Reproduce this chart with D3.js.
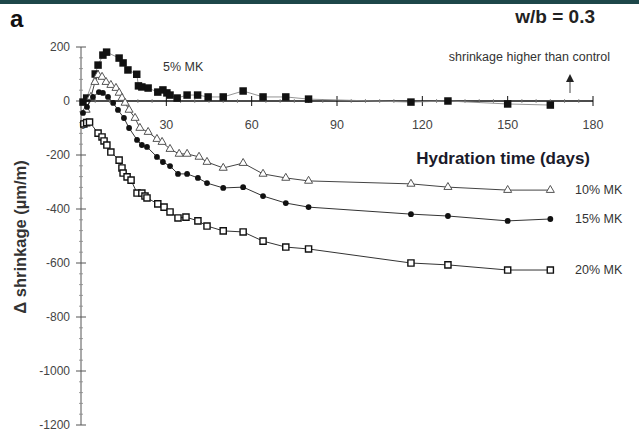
<!DOCTYPE html>
<html>
<head>
<meta charset="utf-8">
<script src="https://cdn.jsdelivr.net/npm/d3@7"></script>
<style>
  html, body { margin: 0; padding: 0; background: #fff; }
  svg { display: block; font-family: Arial, "Liberation Sans", Helvetica, sans-serif; }
</style>
</head>
<body>
<svg id="chart" width="639" height="438"></svg>
<script>
// Δ shrinkage relative to control, w/b = 0.3, by metakaolin replacement level
const days5 = [0.7, 2, 5, 6, 7.7, 9, 13.4, 14.8, 16.5, 19.6, 20.2, 21.4, 23.6, 27, 28.8, 30.2, 31.3, 33.8, 37.3, 41, 44.7, 50, 57, 64, 72, 80, 116, 129, 150, 165];
const mk5 = [-4, 11, 100, 133, 170, 181, 159, 141, 115, 99, 56, 52, 48, 33, 41, 30, 22, 11, 22, 22, 15, 15, 37, 15, 15, 7, -4, 0, -11, -15];

const days10 = [1.8, 3.5, 4.9, 6, 7.4, 8.8, 10.5, 12.3, 13.4, 14.4, 15.5, 16.9, 19, 20.7, 23.6, 26.7, 28.5, 31.3, 34.5, 37.3, 41.5, 44.3, 50, 57, 64, 72, 80, 116, 129, 150, 165];
const mk10 = [-33, 15, 70, 96, 89, 70, 59, 48, 30, 11, -7, -33, -63, -100, -115, -141, -152, -178, -196, -196, -207, -226, -248, -230, -270, -285, -296, -307, -319, -330, -330];

const days15 = [0.7, 2.1, 4.2, 6.3, 7.7, 9.5, 11.3, 13, 15.1, 16.9, 19.7, 21.4, 23.2, 26.7, 28.8, 31.3, 34.1, 37.3, 41.1, 44.3, 50, 57, 64, 72, 80, 116, 129, 150, 165];
const mk15 = [-44, -22, 15, 33, 30, 15, -7, -33, -63, -100, -144, -163, -170, -207, -226, -241, -270, -270, -285, -304, -322, -319, -352, -378, -393, -419, -426, -444, -437];

const days20 = [1, 2, 3, 6, 7.4, 8.1, 9.1, 10.5, 13.4, 14.4, 14.8, 16.2, 17.6, 19.7, 21.4, 22.5, 23.2, 27, 29.2, 31.3, 34.1, 36.9, 41.1, 44.3, 50, 57, 64, 72, 80, 116, 129, 150, 165];
const mk20 = [-85, -80, -78, -119, -133, -148, -163, -189, -219, -248, -267, -281, -293, -341, -341, -352, -359, -381, -393, -411, -433, -430, -444, -463, -481, -485, -519, -541, -548, -600, -607, -626, -626];

const seriesNames = ["5% MK", "10% MK", "15% MK", "20% MK"];
const xTickValues = [0, 30, 60, 90, 120, 150, 180];
const yTickValues = [200, 0, -200, -400, -600, -800, -1000, -1200];

const svg = d3.select("#chart");

// header band
svg.append("rect").attr("x", 0).attr("y", 0).attr("width", 639).attr("height", 4).attr("fill", "#1d4749");

const x = d3.scaleLinear().domain([0, 180]).range([81, 593]);
const y = d3.scaleLinear().domain([-1200, 200]).range([425, 47]);

// x axis through zero, ticks crossing the line
const xAxisG = svg.append("g").attr("transform", `translate(0,${y(0)})`);
xAxisG.append("line").attr("x1", x(0)).attr("x2", x(180)).attr("stroke", "#111").attr("stroke-width", 1.4);
xAxisG.selectAll("line.minor").data(d3.range(5, 180, 5).filter(d => d % 30 !== 0)).join("line")
  .attr("class", "minor").attr("x1", d => x(d)).attr("x2", d => x(d)).attr("y1", -2).attr("y2", 2)
  .attr("stroke", "#777").attr("stroke-width", 0.8);
xAxisG.selectAll("line.major").data(xTickValues.filter(d => d > 0)).join("line")
  .attr("class", "major").attr("x1", d => x(d)).attr("x2", d => x(d)).attr("y1", -5).attr("y2", 5)
  .attr("stroke", "#111").attr("stroke-width", 1);
xAxisG.selectAll("text").data(xTickValues).join("text")
  .attr("x", d => x(d) + (d === 0 ? 2 : 0)).attr("y", 28).attr("text-anchor", "middle")
  .attr("font-size", 12.5).attr("fill", "#444").text(d => d);

// y axis
const yAxisG = svg.append("g");
yAxisG.append("line").attr("x1", x(0)).attr("x2", x(0)).attr("y1", y(200)).attr("y2", y(-1200)).attr("stroke", "#555").attr("stroke-width", 1);
yAxisG.selectAll("line.minor").data(d3.range(-1200, 201, 40).filter(d => d % 200 !== 0)).join("line")
  .attr("class", "minor").attr("x1", x(0) - 2).attr("x2", x(0) + 2).attr("y1", d => y(d)).attr("y2", d => y(d))
  .attr("stroke", "#888").attr("stroke-width", 0.8);
yAxisG.selectAll("line.major").data(yTickValues).join("line")
  .attr("class", "major").attr("x1", x(0) - 5).attr("x2", x(0) + 5).attr("y1", d => y(d)).attr("y2", d => y(d))
  .attr("stroke", "#555").attr("stroke-width", 1);
yAxisG.selectAll("text").data(yTickValues).join("text")
  .attr("x", x(0) - 11).attr("y", d => y(d) + 4).attr("text-anchor", "end")
  .attr("font-size", 12).attr("fill", "#444").text(d => d);

// axis titles
svg.append("text").attr("x", 590).attr("y", 164).attr("text-anchor", "end")
  .attr("font-size", 17).attr("font-weight", "bold").attr("fill", "#1a1a2a").text("Hydration time (days)");
svg.append("text").attr("transform", `translate(26,237) rotate(-90)`).attr("text-anchor", "middle")
  .attr("font-size", 16.5).attr("font-weight", "bold").attr("fill", "#333").text("Δ shrinkage (µm/m)");

// panel label and annotations
svg.append("text").attr("x", 10).attr("y", 27).attr("font-size", 24).attr("font-weight", "bold").attr("fill", "#111").text("a");
svg.append("text").attr("x", 595).attr("y", 23).attr("text-anchor", "end")
  .attr("font-size", 19).attr("font-weight", "bold").attr("fill", "#222").text("w/b = 0.3");
svg.append("text").attr("x", 610).attr("y", 61).attr("text-anchor", "end")
  .attr("font-size", 12.5).attr("fill", "#333").text("shrinkage higher than control");
svg.append("line").attr("x1", 570).attr("x2", 570).attr("y1", 93).attr("y2", 80).attr("stroke", "#444").attr("stroke-width", 1);
svg.append("path").attr("d", "M566,82 L570,74 L574,82 Z").attr("fill", "#222");

const line = d3.line().x(d => x(d[0])).y(d => y(d[1]));
const zip = (a, b) => a.map((d, i) => [d, b[i]]);

const pts5 = zip(days5, mk5), pts10 = zip(days10, mk10), pts15 = zip(days15, mk15), pts20 = zip(days20, mk20);

// connecting lines
svg.append("path").datum(pts5).attr("d", line).attr("fill", "none").attr("stroke", "#888").attr("stroke-width", 0.9);
svg.append("path").datum(pts10).attr("d", line).attr("fill", "none").attr("stroke", "#444").attr("stroke-width", 1);
svg.append("path").datum(pts15).attr("d", line).attr("fill", "none").attr("stroke", "#333").attr("stroke-width", 1);
svg.append("path").datum(pts20).attr("d", line).attr("fill", "none").attr("stroke", "#333").attr("stroke-width", 1);

// markers
svg.append("g").selectAll("path").data(pts5).join("path")
  .attr("transform", d => `translate(${x(d[0])},${y(d[1])})`)
  .attr("d", d3.symbol().type(d3.symbolSquare).size(56)()).attr("fill", "#111");

svg.append("g").selectAll("path").data(pts10).join("path")
  .attr("transform", d => `translate(${x(d[0])},${y(d[1])})`)
  .attr("d", d3.symbol().type(d3.symbolTriangle).size(28)()).attr("fill", "#fff").attr("stroke", "#555").attr("stroke-width", 1);

svg.append("g").selectAll("circle").data(pts15).join("circle")
  .attr("cx", d => x(d[0])).attr("cy", d => y(d[1])).attr("r", 2.9).attr("fill", "#111");

svg.append("g").selectAll("path").data(pts20).join("path")
  .attr("transform", d => `translate(${x(d[0])},${y(d[1])})`)
  .attr("d", d3.symbol().type(d3.symbolSquare).size(38)()).attr("fill", "#fff").attr("stroke", "#111").attr("stroke-width", 1.4);

// series labels
svg.append("text").attr("x", 163).attr("y", 71).attr("font-size", 12.5).attr("fill", "#333").text(seriesNames[0]);
const ends = [[seriesNames[1], mk10[mk10.length - 1]], [seriesNames[2], mk15[mk15.length - 1]], [seriesNames[3], mk20[mk20.length - 1]]];
svg.append("g").selectAll("text").data(ends).join("text")
  .attr("x", 575).attr("y", d => y(d[1]) + 4).attr("font-size", 12.5).attr("fill", "#333").text(d => d[0]);
</script>
</body>
</html>
